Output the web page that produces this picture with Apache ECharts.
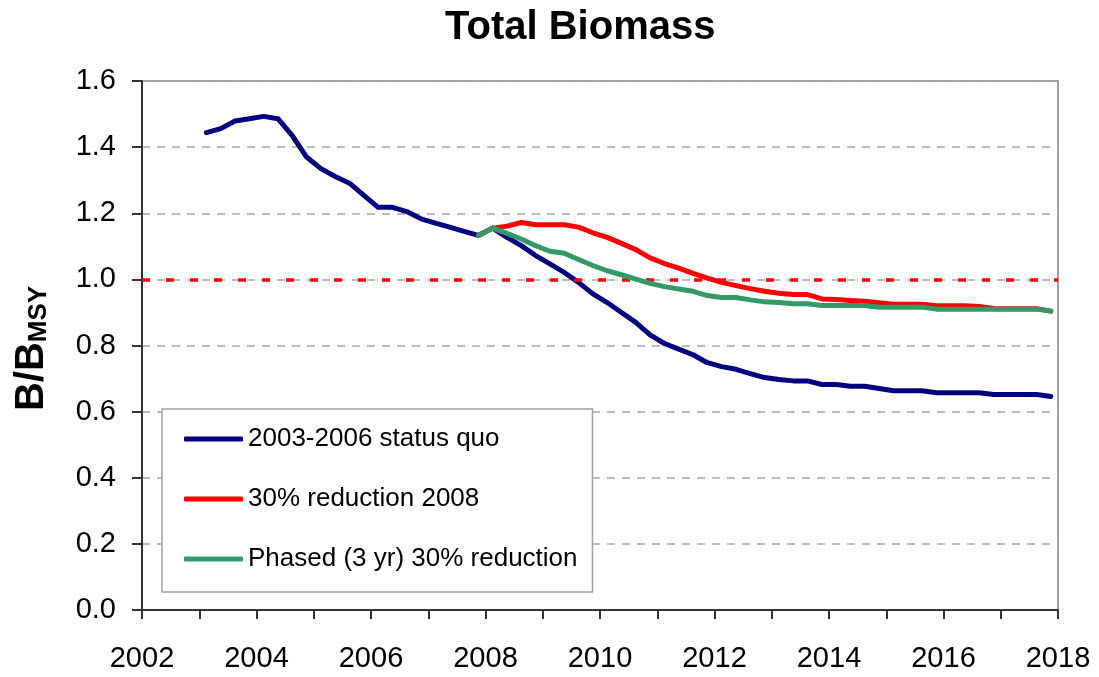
<!DOCTYPE html>
<html>
<head>
<meta charset="utf-8">
<title>Total Biomass</title>
<script src="https://cdn.jsdelivr.net/npm/echarts@6/dist/echarts.min.js"></script>
<style>
	html, body { margin: 0; padding: 0; background: #fff; }
	#chart { width: 1099px; height: 677px; }
</style>
</head>
<body>
<div id="chart"></div>
<script>
// quarterly time points (mid quarter)
var years = [
	2003.125, 2003.375, 2003.625, 2003.875, 2004.125, 2004.375, 2004.625, 2004.875,
	2005.125, 2005.375, 2005.625, 2005.875, 2006.125, 2006.375, 2006.625, 2006.875,
	2007.125, 2007.375, 2007.625, 2007.875, 2008.125, 2008.375, 2008.625, 2008.875,
	2009.125, 2009.375, 2009.625, 2009.875, 2010.125, 2010.375, 2010.625, 2010.875,
	2011.125, 2011.375, 2011.625, 2011.875, 2012.125, 2012.375, 2012.625, 2012.875,
	2013.125, 2013.375, 2013.625, 2013.875, 2014.125, 2014.375, 2014.625, 2014.875,
	2015.125, 2015.375, 2015.625, 2015.875, 2016.125, 2016.375, 2016.625, 2016.875,
	2017.125, 2017.375, 2017.625, 2017.875
];

// 2003-2006 status quo
var statusQuo = [
	1.444, 1.456, 1.479, 1.486, 1.493, 1.486, 1.435, 1.370,
	1.335, 1.311, 1.291, 1.254, 1.218, 1.218, 1.205, 1.183,
	1.170, 1.158, 1.145, 1.133, 1.155, 1.127, 1.102, 1.072,
	1.047, 1.021, 0.991, 0.956, 0.930, 0.900, 0.870, 0.832,
	0.806, 0.789, 0.772, 0.748, 0.736, 0.728, 0.715, 0.703,
	0.697, 0.693, 0.693, 0.682, 0.682, 0.677, 0.677, 0.670,
	0.663, 0.663, 0.663, 0.657, 0.657, 0.657, 0.657, 0.652,
	0.652, 0.652, 0.652, 0.646
];

// scenarios start at 2007.875
var scenarioStart = 19;

var reduction2008 = [
	1.133, 1.155, 1.161, 1.172, 1.165, 1.165, 1.165, 1.158,
	1.141, 1.127, 1.109, 1.090, 1.065, 1.048, 1.034, 1.018,
	1.004, 0.991, 0.981, 0.972, 0.964, 0.958, 0.954, 0.954,
	0.941, 0.939, 0.936, 0.934, 0.929, 0.925, 0.925, 0.925,
	0.920, 0.920, 0.920, 0.918, 0.912, 0.911, 0.911, 0.911,
	0.904
];

var phased = [
	1.133, 1.155, 1.139, 1.122, 1.102, 1.085, 1.079, 1.060,
	1.042, 1.026, 1.014, 1.001, 0.988, 0.978, 0.971, 0.964,
	0.951, 0.945, 0.945, 0.938, 0.932, 0.930, 0.926, 0.926,
	0.921, 0.921, 0.921, 0.921, 0.916, 0.916, 0.916, 0.916,
	0.910, 0.910, 0.910, 0.910, 0.910, 0.910, 0.910, 0.910,
	0.904
];

var seriesNames = ['2003-2006 status quo', '30% reduction 2008', 'Phased (3 yr) 30% reduction'];
var seriesColors = ['#000080', '#ff0000', '#339966'];
var bmsyLine = 1.0;

var FONT = "'Liberation Sans', Arial, sans-serif";

function pairs(xs, ys, offset) {
	var ret = [];
	for (var i = 0; i < ys.length; i++) {
		ret.push([xs[i + offset], ys[i]]);
	}
	return ret;
}

var seriesData = [
	pairs(years, statusQuo, 0),
	pairs(years, reduction2008, scenarioStart),
	pairs(years, phased, scenarioStart)
];

var series = [];
for (var i = 0; i < seriesNames.length; i++) {
	var s = {
		name: seriesNames[i],
		type: 'line',
		data: seriesData[i],
		showSymbol: false,
		symbol: 'none',
		smooth: false,
		z: 3 + i,
		lineStyle: { color: seriesColors[i], width: 5, cap: 'round', join: 'round' },
		itemStyle: { color: seriesColors[i] }
	};
	if (i == 0) {
		// B = BMSY reference line
		s.markLine = {
			silent: true,
			symbol: 'none',
			label: { show: false },
			animation: false,
			lineStyle: { color: '#ff0000', width: 3.5, type: [8, 16] },
			data: [{ yAxis: bmsyLine }]
		};
	}
	series.push(s);
}

var chart = echarts.init(document.getElementById('chart'), null, { renderer: 'canvas' });
chart.setOption({
	animation: false,
	backgroundColor: '#fff',
	title: {
		text: 'Total Biomass',
		left: 445,
		top: 8,
		padding: 0,
		textStyle: { fontFamily: FONT, fontSize: 40, fontWeight: 'bold', color: '#000' }
	},
	legend: {
		orient: 'vertical',
		left: 162,
		top: 409,
		padding: [17, 15, 20, 22],
		itemGap: 34,
		itemWidth: 59,
		itemHeight: 5,
		icon: 'roundRect',
		backgroundColor: '#fff',
		borderColor: '#a0a0a0',
		borderWidth: 1.5,
		borderRadius: 0,
		data: seriesNames,
		textStyle: { fontFamily: FONT, fontSize: 26, color: '#000' }
	},
	grid: {
		left: 142,
		right: 41,
		top: 81,
		bottom: 67,
		show: true,
		borderColor: '#a0a0a0',
		borderWidth: 2,
		backgroundColor: 'transparent'
	},
	xAxis: {
		type: 'value',
		min: 2002,
		max: 2018,
		interval: 1,
		axisLine: { show: true, lineStyle: { color: '#333', width: 2 } },
		axisTick: { show: true, inside: false, length: 9, lineStyle: { color: '#333', width: 2 } },
		splitLine: { show: false },
		axisLabel: {
			margin: 34,
			fontFamily: FONT,
			fontSize: 29,
			color: '#000',
			formatter: function (v) {
				return (v % 2 === 0) ? String(v) : '';
			}
		}
	},
	yAxis: {
		type: 'value',
		min: 0,
		max: 1.6,
		interval: 0.2,
		name: '{b|B/B}{s|MSY}',
		nameLocation: 'middle',
		nameRotate: 90,
		nameGap: 90,
		nameTextStyle: {
			padding: [0, 6, 0, 0],
			rich: {
				b: { fontFamily: FONT, fontSize: 40, fontWeight: 'bold', color: '#000' },
				s: { fontFamily: FONT, fontSize: 26, fontWeight: 'bold', color: '#000', verticalAlign: 'bottom' }
			}
		},
		axisLine: { show: true, lineStyle: { color: '#333', width: 2 } },
		axisTick: { show: true, inside: false, length: 10, lineStyle: { color: '#333', width: 2 } },
		splitLine: { show: true, lineStyle: { color: '#a6a6a6', width: 1.5, type: [8, 7] } },
		axisLabel: {
			margin: 26,
			fontFamily: FONT,
			fontSize: 29,
			color: '#000',
			formatter: function (v) {
				return v.toFixed(1);
			}
		}
	},
	series: series
});
</script>
</body>
</html>
